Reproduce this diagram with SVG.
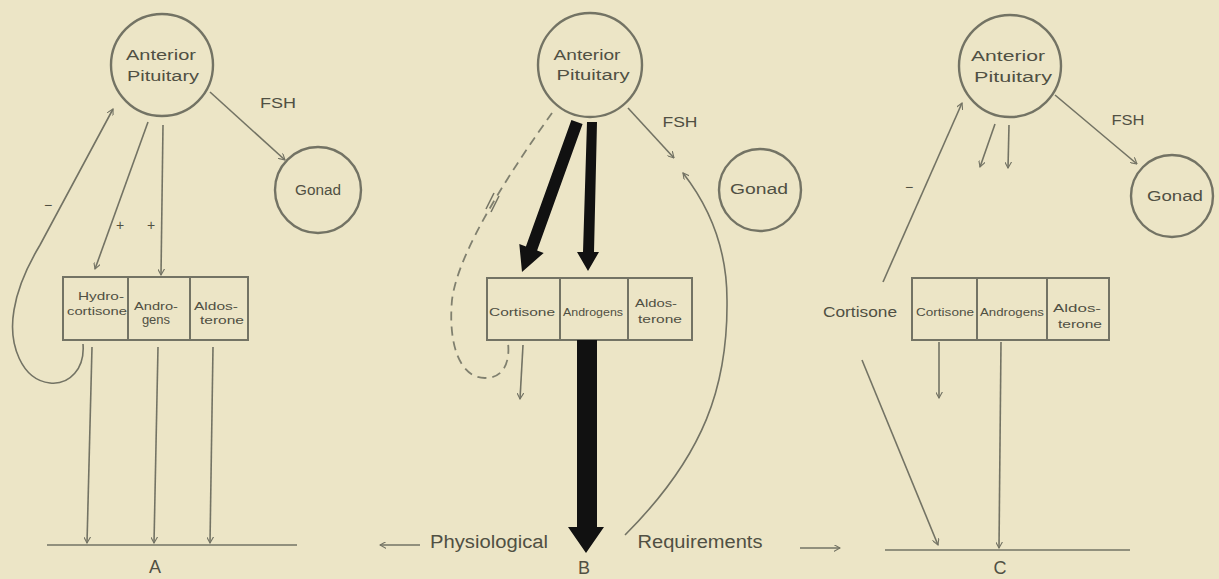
<svg xmlns="http://www.w3.org/2000/svg" width="1219" height="579" viewBox="0 0 1219 579">
<style>
.bg{fill:#ece5c6}
.node{fill:none;stroke:#737364;stroke-width:2.4}
.box{fill:none;stroke:#737364;stroke-width:2}
.ln{fill:none;stroke:#737364;stroke-width:1.6}
.arr{fill:none;stroke:#737364;stroke-width:1.6;marker-end:url(#ah)}
.dash{fill:none;stroke:#80806f;stroke-width:1.8;stroke-dasharray:9 6}
.thick{fill:#111}
text{font-family:"Liberation Sans",Arial,sans-serif;fill:#505043;text-anchor:middle}
.t14{font-size:14px}
.t11{font-size:11px}
.t18{font-size:18px}
</style>
<defs>
<marker id="ah" viewBox="0 0 10 10" refX="9" refY="5" markerWidth="7" markerHeight="7" markerUnits="userSpaceOnUse" orient="auto">
<path d="M0,0 L9,5 L0,10" fill="none" stroke="#737364" stroke-width="1.6"/>
</marker>
</defs>
<rect class="bg" x="0" y="0" width="1219" height="579"/>

<!-- Panel A -->
<g id="A-pituitary">
<circle class="node" cx="162" cy="65" r="51"/>
<text class="t14" x="161" y="60" textLength="70" lengthAdjust="spacingAndGlyphs">Anterior</text>
<text class="t14" x="163" y="81" textLength="72" lengthAdjust="spacingAndGlyphs">Pituitary</text>
</g>
<g id="A-gonad">
<circle class="node" cx="318" cy="190" r="43"/>
<text class="t14" x="318" y="195" textLength="46" lengthAdjust="spacingAndGlyphs">Gonad</text>
</g>
<g id="A-adrenal">
<rect class="box" x="63" y="277" width="185" height="63"/>
<line class="box" x1="128" y1="277" x2="128" y2="340"/>
<line class="box" x1="190" y1="277" x2="190" y2="340"/>
<text class="t11" x="101" y="300" textLength="46" lengthAdjust="spacingAndGlyphs">Hydro-</text>
<text class="t11" x="97" y="315" textLength="60" lengthAdjust="spacingAndGlyphs">cortisone</text>
<text class="t11" x="156" y="310" textLength="44" lengthAdjust="spacingAndGlyphs">Andro-</text>
<text x="156" y="324" font-size="13">gens</text>
<text class="t11" x="216" y="310" textLength="44" lengthAdjust="spacingAndGlyphs">Aldos-</text>
<text class="t11" x="222" y="324" textLength="44" lengthAdjust="spacingAndGlyphs">terone</text>
</g>
<g id="A-labels">
<text class="t14" x="278" y="108" textLength="36" lengthAdjust="spacingAndGlyphs">FSH</text>
<text class="t14" x="48" y="210">−</text>
<text class="t14" x="120" y="230">+</text>
<text class="t14" x="151" y="230">+</text>
<text class="t18" x="155" y="573">A</text>
</g>

<!-- Panel B -->
<g id="B-pituitary">
<circle class="node" cx="590" cy="65" r="52"/>
<text class="t14" x="587" y="60" textLength="67" lengthAdjust="spacingAndGlyphs">Anterior</text>
<text class="t14" x="593" y="80" textLength="73" lengthAdjust="spacingAndGlyphs">Pituitary</text>
</g>
<g id="B-gonad">
<circle class="node" cx="760" cy="190" r="41"/>
<text class="t14" x="759" y="194" textLength="58" lengthAdjust="spacingAndGlyphs">Gonad</text>
</g>
<g id="B-adrenal">
<rect class="box" x="487" y="278" width="205" height="62"/>
<line class="box" x1="560" y1="278" x2="560" y2="340"/>
<line class="box" x1="628" y1="278" x2="628" y2="340"/>
<text class="t11" x="522" y="316" textLength="66" lengthAdjust="spacingAndGlyphs">Cortisone</text>
<text class="t11" x="593" y="316" textLength="60" lengthAdjust="spacingAndGlyphs">Androgens</text>
<text class="t11" x="656" y="307" textLength="42" lengthAdjust="spacingAndGlyphs">Aldos-</text>
<text class="t11" x="660" y="323" textLength="44" lengthAdjust="spacingAndGlyphs">terone</text>
</g>
<g id="B-labels">
<text class="t14" x="680" y="127" textLength="35" lengthAdjust="spacingAndGlyphs">FSH</text>
<text class="t18" x="489" y="548" textLength="118" lengthAdjust="spacingAndGlyphs">Physiological</text>
<text class="t18" x="700" y="548" textLength="125" lengthAdjust="spacingAndGlyphs">Requirements</text>
<text class="t18" x="584" y="574" font-size="16">B</text>
</g>

<!-- Panel C -->
<g id="C-pituitary">
<circle class="node" cx="1010" cy="66" r="51"/>
<text class="t14" x="1008" y="61" textLength="74" lengthAdjust="spacingAndGlyphs">Anterior</text>
<text class="t14" x="1013" y="82" textLength="78" lengthAdjust="spacingAndGlyphs">Pituitary</text>
</g>
<g id="C-gonad">
<circle class="node" cx="1172" cy="196" r="41"/>
<text class="t14" x="1175" y="201" textLength="56" lengthAdjust="spacingAndGlyphs">Gonad</text>
</g>
<g id="C-adrenal">
<rect class="box" x="912" y="278" width="197" height="62"/>
<line class="box" x1="977" y1="278" x2="977" y2="340"/>
<line class="box" x1="1047" y1="278" x2="1047" y2="340"/>
<text class="t11" x="945" y="316" textLength="58" lengthAdjust="spacingAndGlyphs">Cortisone</text>
<text class="t11" x="1012" y="316" textLength="64" lengthAdjust="spacingAndGlyphs">Androgens</text>
<text class="t11" x="1077" y="312" textLength="48" lengthAdjust="spacingAndGlyphs">Aldos-</text>
<text class="t11" x="1080" y="328" textLength="44" lengthAdjust="spacingAndGlyphs">terone</text>
</g>
<g id="C-labels">
<text class="t14" x="1128" y="125" textLength="33" lengthAdjust="spacingAndGlyphs">FSH</text>
<text class="t14" x="909" y="192">−</text>
<text class="t14" x="860" y="317" font-size="15" textLength="74" lengthAdjust="spacingAndGlyphs">Cortisone</text>
<text class="t18" x="1000" y="574" font-size="16">C</text>
</g>

<!-- Connectors -->
<g id="connectors">
<!-- A -->
<line class="arr" x1="210" y1="92" x2="285" y2="160"/>
<line class="arr" x1="148" y1="122" x2="95" y2="269"/>
<line class="arr" x1="163" y1="125" x2="161" y2="275"/>
<path class="arr" d="M83,344 C85,368 70,385 50,383 C22,380 8,345 14,310 C18,285 28,265 40,245 L113,109"/>
<line class="arr" x1="92" y1="347" x2="87" y2="543"/>
<line class="arr" x1="158" y1="347" x2="154" y2="543"/>
<line class="arr" x1="213" y1="347" x2="210" y2="543"/>
<line class="ln" x1="47" y1="545" x2="297" y2="545"/>
<line class="arr" x1="420" y1="545" x2="380" y2="545"/>
<!-- B -->
<line class="arr" x1="628" y1="108" x2="674" y2="158"/>
<path class="arr" d="M625,535 C705,455 728,385 727,300 C727,245 708,205 683,173"/>
<path class="dash" d="M552,113 C515,165 458,250 452,300 C448,345 460,378 485,378 C505,378 510,360 508,343"/>
<line class="ln" x1="486" y1="209" x2="494" y2="193"/>
<line class="ln" x1="491" y1="212" x2="499" y2="196"/>
<line class="arr" x1="523" y1="345" x2="520" y2="399"/>
<polygon class="thick" points="571.4,120 582.6,124 537.1,250.5 543.7,252.9 522,272 519.3,244.1 525.9,246.5"/>
<polygon class="thick" points="587,122 597,122 594,252 599,252 588,271 577,252 583,252"/>
<polygon class="thick" points="577,340 597,340 597,527 604,527 586,553 568,527 577,527"/>
<line class="arr" x1="800" y1="548" x2="840" y2="548"/>
<!-- C -->
<line class="arr" x1="1055" y1="95" x2="1137" y2="164"/>
<line class="arr" x1="995" y1="124" x2="980" y2="167"/>
<line class="arr" x1="1009" y1="125" x2="1008" y2="168"/>
<line class="arr" x1="883" y1="282" x2="962" y2="103"/>
<line class="arr" x1="862" y1="360" x2="938" y2="545"/>
<line class="arr" x1="939" y1="342" x2="939" y2="398"/>
<line class="arr" x1="1001" y1="342" x2="999" y2="548"/>
<line class="ln" x1="885" y1="550" x2="1130" y2="550"/>
</g>
</svg>
